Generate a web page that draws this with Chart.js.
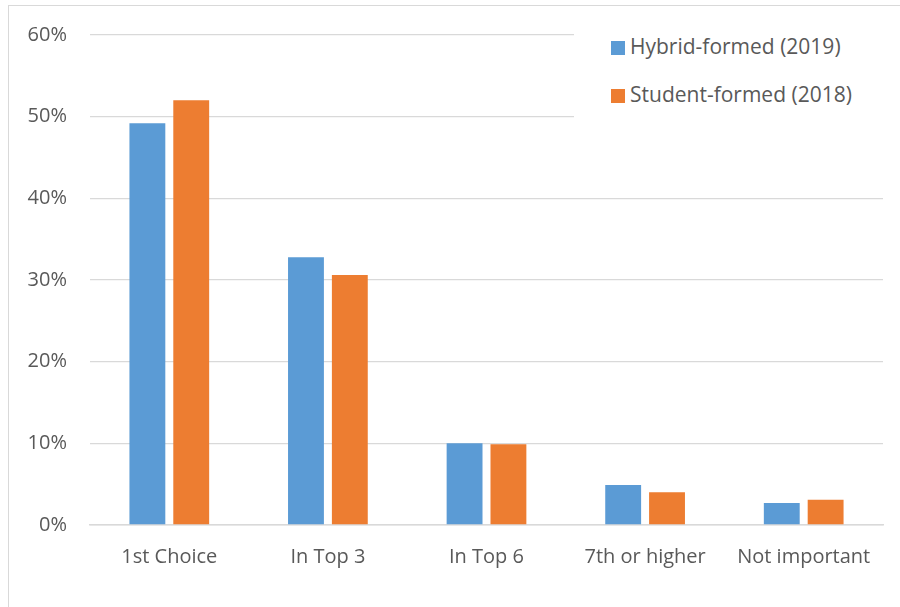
<!DOCTYPE html>
<html>
<head>
<meta charset="utf-8">
<script src="https://cdn.jsdelivr.net/npm/chart.js@4"></script>
<style>
  html, body { margin: 0; padding: 0; background: #fff; }
  body { width: 900px; height: 607px; position: relative; overflow: hidden; font-family: "Open Sans", sans-serif; }
  #frame { position: absolute; left: 8px; top: 5px; width: 1000px; height: 1000px;
           border-left: 1px solid #d9d9d9; border-top: 1px solid #d9d9d9; }
  #chart { position: absolute; left: 0; top: 0; }
  #legend { position: absolute; left: 574px; top: 22px; width: 310px; height: 100px; background: #fff; }
  .item { position: absolute; left: 37px; height: 24px; line-height: 24px; font-size: 21px; color: #595959; white-space: nowrap; }
  .item span { display: inline-block; width: 14px; height: 14px; margin-right: 5px; vertical-align: -1px; }
</style>
</head>
<body>
<div id="frame"></div>
<canvas id="chart" width="900" height="607"></canvas>
<div id="legend"></div>
<script>
// Chart values (percent)
const categories = ['1st Choice', 'In Top 3', 'In Top 6', '7th or higher', 'Not important'];
const hybridFormed = [49.2, 32.8, 10.0, 4.9, 2.7];   // Hybrid-formed (2019)
const studentFormed = [52.0, 30.6, 9.9, 4.0, 3.1];   // Student-formed (2018)
const yTicks = [0, 10, 20, 30, 40, 50, 60];

const seriesNames = ['Hybrid-formed (2019)', 'Student-formed (2018)'];
const seriesColors = ['#5b9bd5', '#ed7d31'];

const ctx = document.getElementById('chart').getContext('2d');
const chart = new Chart(ctx, {
    type: 'bar',
    data: {
        labels: categories,
        datasets: [
            { label: seriesNames[0], data: hybridFormed, backgroundColor: seriesColors[0] },
            { label: seriesNames[1], data: studentFormed, backgroundColor: seriesColors[1] }
        ]
    },
    options: {
        responsive: false,
        animation: false,
        devicePixelRatio: 1,
        categoryPercentage: 0.553,
        barPercentage: 0.818,
        layout: { padding: { top: 34, right: 17, bottom: 0, left: 0 } },
        plugins: { legend: { display: false }, tooltip: { enabled: false } },
        scales: {
            x: {
                grid: { display: false, drawTicks: false },
                border: { color: '#d9d9d9', width: 1.5 },
                ticks: { color: '#595959', font: { family: 'Open Sans', size: 20 }, padding: 20, maxRotation: 0 },
                afterFit(scale) { scale.height = 82; }
            },
            y: {
                min: 0,
                max: 60,
                afterBuildTicks(scale) { scale.ticks = yTicks.map(v => ({ value: v })); },
                grid: { color: '#d9d9d9', lineWidth: 1.3, drawTicks: false },
                border: { display: false },
                ticks: {
                    color: '#595959',
                    font: { family: 'Open Sans', size: 20 },
                    padding: 23,
                    callback: v => v + '%'
                },
                afterFit(scale) { scale.width = 90; }
            }
        }
    }
});

// Legend drawn as HTML, sitting over the top-right of the plot
const legend = document.getElementById('legend');
seriesNames.forEach((name, i) => {
    const item = document.createElement('div');
    item.className = 'item';
    item.style.top = (12 + i * 48) + 'px';
    item.innerHTML = '<span style="background:' + seriesColors[i] + '"></span>' + name;
    legend.appendChild(item);
});
</script>
</body>
</html>
